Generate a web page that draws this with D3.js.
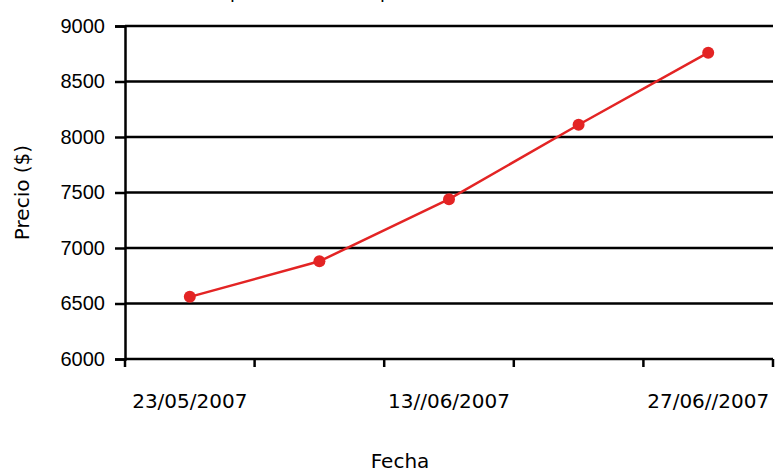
<!DOCTYPE html>
<html>
<head>
<meta charset="utf-8">
<script src="https://cdn.jsdelivr.net/npm/d3@7"></script>
<style>
  body { margin: 0; background: #fff; }
  svg { display: block; font-family: "DejaVu Sans", sans-serif; }
</style>
</head>
<body>
<script>
// data
var categories = ["d1", "d2", "d3", "d4", "d5"];
var tick_labels = ["23/05/2007", "", "13//06/2007", "", "27/06//2007"];
var precios = [6560, 6880, 7440, 8110, 8760];
var y_ticks = [6000, 6500, 7000, 7500, 8000, 8500, 9000];

var w = 775, h = 472;
var m = {top: 26, right: 2, bottom: 113, left: 125};

var svg = d3.select("body").append("svg")
            .attr("width", w)
            .attr("height", h);

var x = d3.scaleBand()
          .domain(categories)
          .range([m.left, w - m.right]);

var y = d3.scaleLinear()
          .domain([6000, 9000])
          .range([h - m.bottom, m.top]);

// grid lines
svg.append("g").selectAll("line")
   .data(y_ticks.slice(1))
   .enter().append("line")
   .attr("x1", m.left).attr("x2", w - m.right)
   .attr("y1", function(d) { return y(d); })
   .attr("y2", function(d) { return y(d); })
   .style("stroke", "#000").style("stroke-width", 2.5);

// y axis
var yAxis = svg.append("g")
   .attr("transform", "translate(" + m.left + ",0)")
   .call(d3.axisLeft(y).tickValues(y_ticks).tickSize(10).tickPadding(10).tickFormat(d3.format("d")));

// x axis, ticks at the category edges
var edges = categories.map(function(c) { return x(c); }).concat([w - m.right]);
var xAxisG = svg.append("g")
   .attr("transform", "translate(0," + (h - m.bottom) + ")");
xAxisG.append("line")
   .attr("x1", m.left).attr("x2", w - m.right)
   .attr("y1", 0).attr("y2", 0);
xAxisG.selectAll(".tk").data(edges).enter().append("line")
   .attr("class", "tk")
   .attr("x1", function(d) { return d; }).attr("x2", function(d) { return d; })
   .attr("y1", 0).attr("y2", 8);
xAxisG.selectAll("line").style("stroke", "#000").style("stroke-width", 2.5);
xAxisG.selectAll("text").data(categories).enter().append("text")
   .attr("x", function(d) { return x(d) + x.bandwidth() / 2; })
   .attr("y", 49)
   .attr("text-anchor", "middle")
   .style("font-size", "20px")
   .style("fill", "#000")
   .text(function(d, i) { return tick_labels[i]; });

yAxis.select(".domain").style("stroke", "#000").style("stroke-width", 2.5);
yAxis.selectAll(".tick line").style("stroke", "#000").style("stroke-width", 2.5);
yAxis.selectAll("text").style("font-size", "20px").style("fill", "#000");

// the series
var line = d3.line()
   .x(function(d, i) { return x(categories[i]) + x.bandwidth() / 2; })
   .y(function(d) { return y(d); });

svg.append("path")
   .datum(precios)
   .attr("d", line)
   .style("fill", "none")
   .style("stroke", "#e32424")
   .style("stroke-width", 2.5);

svg.append("g").selectAll("circle")
   .data(precios)
   .enter().append("circle")
   .attr("cx", function(d, i) { return x(categories[i]) + x.bandwidth() / 2; })
   .attr("cy", function(d) { return y(d); })
   .attr("r", 6)
   .style("fill", "#e32424");

// titles (the chart title sits above the top edge, only its descenders show)
svg.append("text")
   .attr("x", 189).attr("y", -2)
   .style("font-size", "18px")
   .text("Comportamiento del precio");

svg.append("text")
   .attr("x", 400).attr("y", 468)
   .attr("text-anchor", "middle")
   .style("font-size", "20px")
   .text("Fecha");

svg.append("text")
   .attr("transform", "translate(29," + ((m.top + h - m.bottom) / 2) + ") rotate(-90)")
   .attr("text-anchor", "middle")
   .style("font-size", "20px")
   .text("Precio ($)");
</script>
</body>
</html>
